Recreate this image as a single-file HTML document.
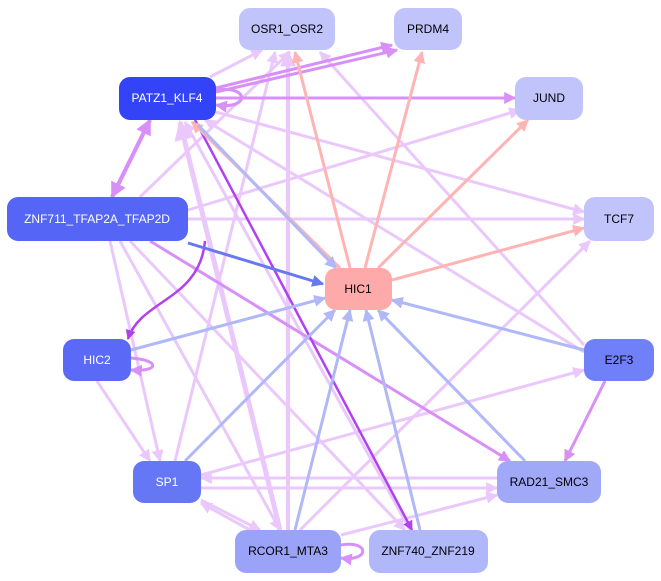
<!DOCTYPE html>
<html><head><meta charset="utf-8"><style>
html,body{margin:0;padding:0;background:#fff;width:661px;height:581px;overflow:hidden}
text{font-family:"Liberation Sans",sans-serif;font-size:12px;text-anchor:middle;dominant-baseline:central}
</style></head><body>
<svg width="661" height="581" viewBox="0 0 661 581">
<defs>
<marker id="aL" viewBox="0 0 10 10" refX="9" refY="5" markerWidth="4" markerHeight="4" orient="auto"><path d="M0,0L10,5L0,10z" fill="#ebc8fb"/></marker>
<marker id="aP" viewBox="0 0 10 10" refX="9" refY="5" markerWidth="4" markerHeight="4" orient="auto"><path d="M0,0L10,5L0,10z" fill="#d890f8"/></marker>
<marker id="aD" viewBox="0 0 10 10" refX="9" refY="5" markerWidth="4" markerHeight="4" orient="auto"><path d="M0,0L10,5L0,10z" fill="#b040f0"/></marker>
<marker id="aR" viewBox="0 0 10 10" refX="9" refY="5" markerWidth="4" markerHeight="4" orient="auto"><path d="M0,0L10,5L0,10z" fill="#ffb4b4"/></marker>
<marker id="aB" viewBox="0 0 10 10" refX="9" refY="5" markerWidth="4" markerHeight="4" orient="auto"><path d="M0,0L10,5L0,10z" fill="#b0b8f8"/></marker>
<marker id="aBB" viewBox="0 0 10 10" refX="9" refY="5" markerWidth="4" markerHeight="4" orient="auto"><path d="M0,0L10,5L0,10z" fill="#6878f0"/></marker>
</defs>
<g fill="none" stroke-width="3">
<g stroke="#ebc8fb" marker-end="url(#aL)">
<line x1="210" y1="77" x2="262" y2="50"/>
<line x1="216" y1="112" x2="584" y2="212"/>
<line x1="140" y1="197" x2="290" y2="52"/>
<line x1="188" y1="210" x2="520" y2="110"/>
<line x1="188" y1="219" x2="584" y2="219"/>
<line x1="110" y1="241" x2="160" y2="461"/>
<line x1="120" y1="241" x2="280" y2="530"/>
<line x1="130" y1="241" x2="405" y2="530"/>
<line x1="97" y1="381" x2="150" y2="461"/>
<line x1="175" y1="461" x2="275" y2="52"/>
<line x1="201" y1="475" x2="584" y2="370"/>
<line x1="288" y1="530" x2="288" y2="52" stroke-width="4"/>
<line x1="280" y1="530" x2="180" y2="122" stroke-width="5"/>
<line x1="300" y1="530" x2="590" y2="241"/>
<line x1="410" y1="530" x2="185" y2="122"/>
<line x1="584" y1="345" x2="320" y2="52"/>
<line x1="584" y1="352" x2="205" y2="120"/>
<line x1="201" y1="488" x2="497" y2="488"/>
<line x1="497" y1="478" x2="201" y2="478"/>
<line x1="201" y1="500" x2="260" y2="530"/>
<line x1="250" y1="530" x2="201" y2="503"/>
<line x1="341" y1="535" x2="497" y2="495"/>
</g>
<g stroke="#d890f8" marker-end="url(#aP)">
<line x1="216" y1="88" x2="392" y2="45"/>
<line x1="216" y1="98" x2="515" y2="98"/>
<line x1="216" y1="92" x2="397" y2="50"/>
<line x1="150" y1="120" x2="112" y2="197" stroke-width="4"/>
<line x1="112" y1="197" x2="150" y2="120" stroke-width="4"/>
<line x1="150" y1="241" x2="510" y2="461"/>
<line x1="605" y1="381" x2="565" y2="461"/>
<path d="M216,90 C250,85 250,110 216,105"/>
<path d="M131,358 C160,360 160,372 131,370"/>
<path d="M341,545 C370,540 370,562 341,558"/>
</g>
<g stroke="#b040f0" stroke-width="2.5" marker-end="url(#aD)">
<line x1="195" y1="120" x2="412" y2="530"/>
<path d="M205,241 C200,300 140,300 128,339"/>
</g>
<g stroke="#ffb4b4" marker-end="url(#aR)">
<line x1="340" y1="268" x2="192" y2="122"/>
<line x1="350" y1="268" x2="295" y2="52"/>
<line x1="365" y1="268" x2="422" y2="52"/>
<line x1="378" y1="268" x2="528" y2="120"/>
<line x1="392" y1="280" x2="584" y2="228"/>
</g>
<g stroke="#b0b8f8" marker-end="url(#aB)">
<line x1="198" y1="125" x2="336" y2="268"/>
<line x1="131" y1="350" x2="325" y2="298"/>
<line x1="584" y1="350" x2="392" y2="300"/>
<line x1="185" y1="461" x2="335" y2="310"/>
<line x1="525" y1="461" x2="378" y2="310"/>
<line x1="295" y1="530" x2="350" y2="310"/>
<line x1="420" y1="530" x2="366" y2="310"/>
</g>
<line x1="188" y1="243" x2="323" y2="284" stroke="#6878f0" stroke-width="3" marker-end="url(#aBB)"/>
</g>
<g>
<rect x="239" y="8" width="96" height="42" rx="11" fill="#c0c4fb"/><text x="287" y="29" fill="#000">OSR1_OSR2</text>
<rect x="394" y="8" width="68" height="42" rx="11" fill="#c0c4fb"/><text x="428" y="29">PRDM4</text>
<rect x="119" y="77" width="97" height="43" rx="11" fill="#3344f8"/><text x="167" y="98" fill="#fff">PATZ1_KLF4</text>
<rect x="515" y="77" width="68" height="43" rx="11" fill="#c0c4fb"/><text x="549" y="98">JUND</text>
<rect x="7" y="197" width="181" height="44" rx="11" fill="#5566f6"/><text x="97" y="219" fill="#fff">ZNF711_TFAP2A_TFAP2D</text>
<rect x="584" y="197" width="70" height="44" rx="11" fill="#c0c4fb"/><text x="619" y="219">TCF7</text>
<rect x="325" y="268" width="67" height="42" rx="11" fill="#ffaaaa"/><text x="358" y="289">HIC1</text>
<rect x="63" y="339" width="68" height="42" rx="11" fill="#5a6af6"/><text x="97" y="360" fill="#fff">HIC2</text>
<rect x="584" y="339" width="70" height="42" rx="11" fill="#7080f8"/><text x="619" y="360">E2F3</text>
<rect x="133" y="461" width="68" height="42" rx="11" fill="#6677f6"/><text x="167" y="482" fill="#fff">SP1</text>
<rect x="497" y="461" width="104" height="42" rx="11" fill="#a0a8f8"/><text x="549" y="482">RAD21_SMC3</text>
<rect x="235" y="530" width="106" height="43" rx="11" fill="#9aa3f8"/><text x="288" y="551">RCOR1_MTA3</text>
<rect x="369" y="530" width="119" height="43" rx="11" fill="#b0b8fa"/><text x="428" y="551">ZNF740_ZNF219</text>
</g>
</svg>
</body></html>
